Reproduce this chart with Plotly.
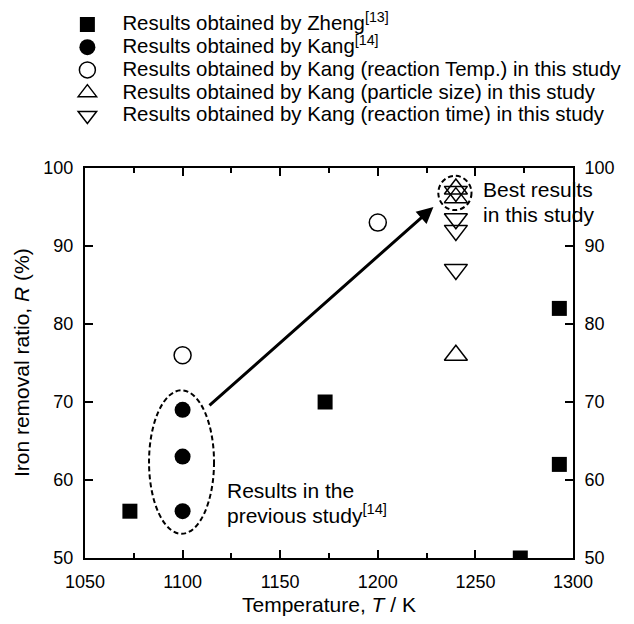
import plotly.graph_objects as go

# ---- data ----
zheng_T = [1073, 1173, 1273, 1293, 1293]
zheng_R = [56, 70, 50, 62, 82]

kang_prev_T = [1100, 1100, 1100]
kang_prev_R = [56, 63, 69]

kang_temp_T = [1100, 1200]
kang_temp_R = [76, 93]

kang_size_T = [1240, 1240, 1240]
kang_size_R = [76, 96.2, 97.3]

kang_time_T = [1240, 1240, 1240, 1240]
kang_time_R = [87, 92, 93.5, 97]

x_ticks = [1050, 1100, 1150, 1200, 1250, 1300]
y_ticks = [50, 60, 70, 80, 90, 100]

legend_names = [
    "Results obtained by Zheng<sup>[13]</sup>",
    "Results obtained by Kang<sup>[14]</sup>",
    "Results obtained by Kang (reaction Temp.) in this study",
    "Results obtained by Kang (particle size) in this study",
    "Results obtained by Kang (reaction time) in this study",
]

FONT = "Arial, Liberation Sans, sans-serif"
TXT = 21
LEG_TXT = 20.4


def lname(s):
    return '<span style="font-size:%.1fpx">%s</span>' % (LEG_TXT, s)


fig = go.Figure()

fig.add_trace(go.Scatter(x=zheng_T, y=zheng_R, mode="markers", name=lname(legend_names[0]),
                         marker=dict(symbol="square", size=15, color="black")))
fig.add_trace(go.Scatter(x=kang_prev_T, y=kang_prev_R, mode="markers", name=lname(legend_names[1]),
                         marker=dict(symbol="circle", size=16, color="black")))
fig.add_trace(go.Scatter(x=kang_temp_T, y=kang_temp_R, mode="markers", name=lname(legend_names[2]),
                         marker=dict(symbol="circle-open", size=17, color="black",
                                     line=dict(width=1.5, color="black"))))
fig.add_trace(go.Scatter(x=kang_size_T, y=kang_size_R, mode="markers", name=lname(legend_names[3]),
                         marker=dict(symbol="triangle-up-open", size=20, color="black",
                                     line=dict(width=1.5, color="black"))))
fig.add_trace(go.Scatter(x=kang_time_T, y=kang_time_R, mode="markers", name=lname(legend_names[4]),
                         marker=dict(symbol="triangle-down-open", size=20, color="black",
                                     line=dict(width=1.5, color="black"))))
# invisible trace for right axis
fig.add_trace(go.Scatter(x=[1050], y=[50], yaxis="y2", mode="markers",
                         marker=dict(opacity=0), showlegend=False, hoverinfo="skip"))


def axis_common():
    return dict(showline=True, linecolor="black", linewidth=2, showgrid=False,
                zeroline=False, ticks="inside", tickcolor="black", tickwidth=1.5,
                ticklen=8, automargin=False, ticklabelstandoff=6,
                tickfont=dict(family=FONT, size=18, color="black"))


fig.update_layout(
    width=634, height=624,
    margin=dict(l=77, r=69, t=160, b=74, autoexpand=False),
    plot_bgcolor="white", paper_bgcolor="white",
    font=dict(family=FONT, size=TXT, color="black"),
    showlegend=True,
    legend=dict(x=0.070, y=1.0168, xref="container", yref="container",
                xanchor="left", yanchor="top",
                font=dict(family=FONT, size=15.2, color="black"),
                bgcolor="rgba(0,0,0,0)", tracegroupgap=0, itemwidth=60),
    xaxis=dict(range=[1050, 1300], tickvals=x_ticks, mirror="ticks",
               minor=dict(dtick=25, ticks="inside", ticklen=5, tickcolor="black", tickwidth=1.5),
               **axis_common()),
    yaxis=dict(range=[50, 100], tickvals=y_ticks, mirror="ticks", **axis_common()),
    yaxis2=dict(range=[50, 100], tickvals=y_ticks, overlaying="y", side="right",
                **axis_common()),
)

# axis titles
fig.add_annotation(x=0.5, y=-0.1205, xref="paper", yref="paper", showarrow=False,
                   xanchor="center", yanchor="middle",
                   text="Temperature, <i>T</i> / K", font=dict(size=TXT))
fig.add_annotation(x=-0.131, y=0.5, xref="paper", yref="paper", showarrow=False,
                   xanchor="center", yanchor="middle", textangle=-90,
                   text="Iron removal ratio, <i>R</i> (%)", font=dict(size=TXT))

# arrow
fig.add_annotation(x=1228.5, y=95.0, ax=1113, ay=69.4, xref="x", yref="y",
                   axref="x", ayref="y", showarrow=True, arrowhead=2,
                   arrowsize=1.1, arrowwidth=3, arrowcolor="black", text="")

# dashed ellipses
fig.add_shape(type="circle", xref="x", yref="y", x0=1082.8, x1=1116.1, y0=53.1, y1=71.5,
              line=dict(color="black", width=2, dash="5px,3px"))
fig.add_shape(type="circle", xref="x", yref="y", x0=1231.0, x1=1248.0, y0=94.6, y1=99.0,
              line=dict(color="black", width=2, dash="5px,3px"))

# text labels
for txt, yy in [("Best results", 97.2), ("in this study", 94.1)]:
    fig.add_annotation(x=1253, y=yy, xref="x", yref="y", xanchor="left", yanchor="middle",
                       showarrow=False, text=txt, font=dict(size=TXT))
for txt, yy in [("Results in the", 58.7), ("previous study<sup>[14]</sup>", 55.6)]:
    fig.add_annotation(x=1121.7, y=yy, xref="x", yref="y", xanchor="left", yanchor="middle",
                       showarrow=False, text=txt, font=dict(size=TXT))

fig.write_html("out.html")
